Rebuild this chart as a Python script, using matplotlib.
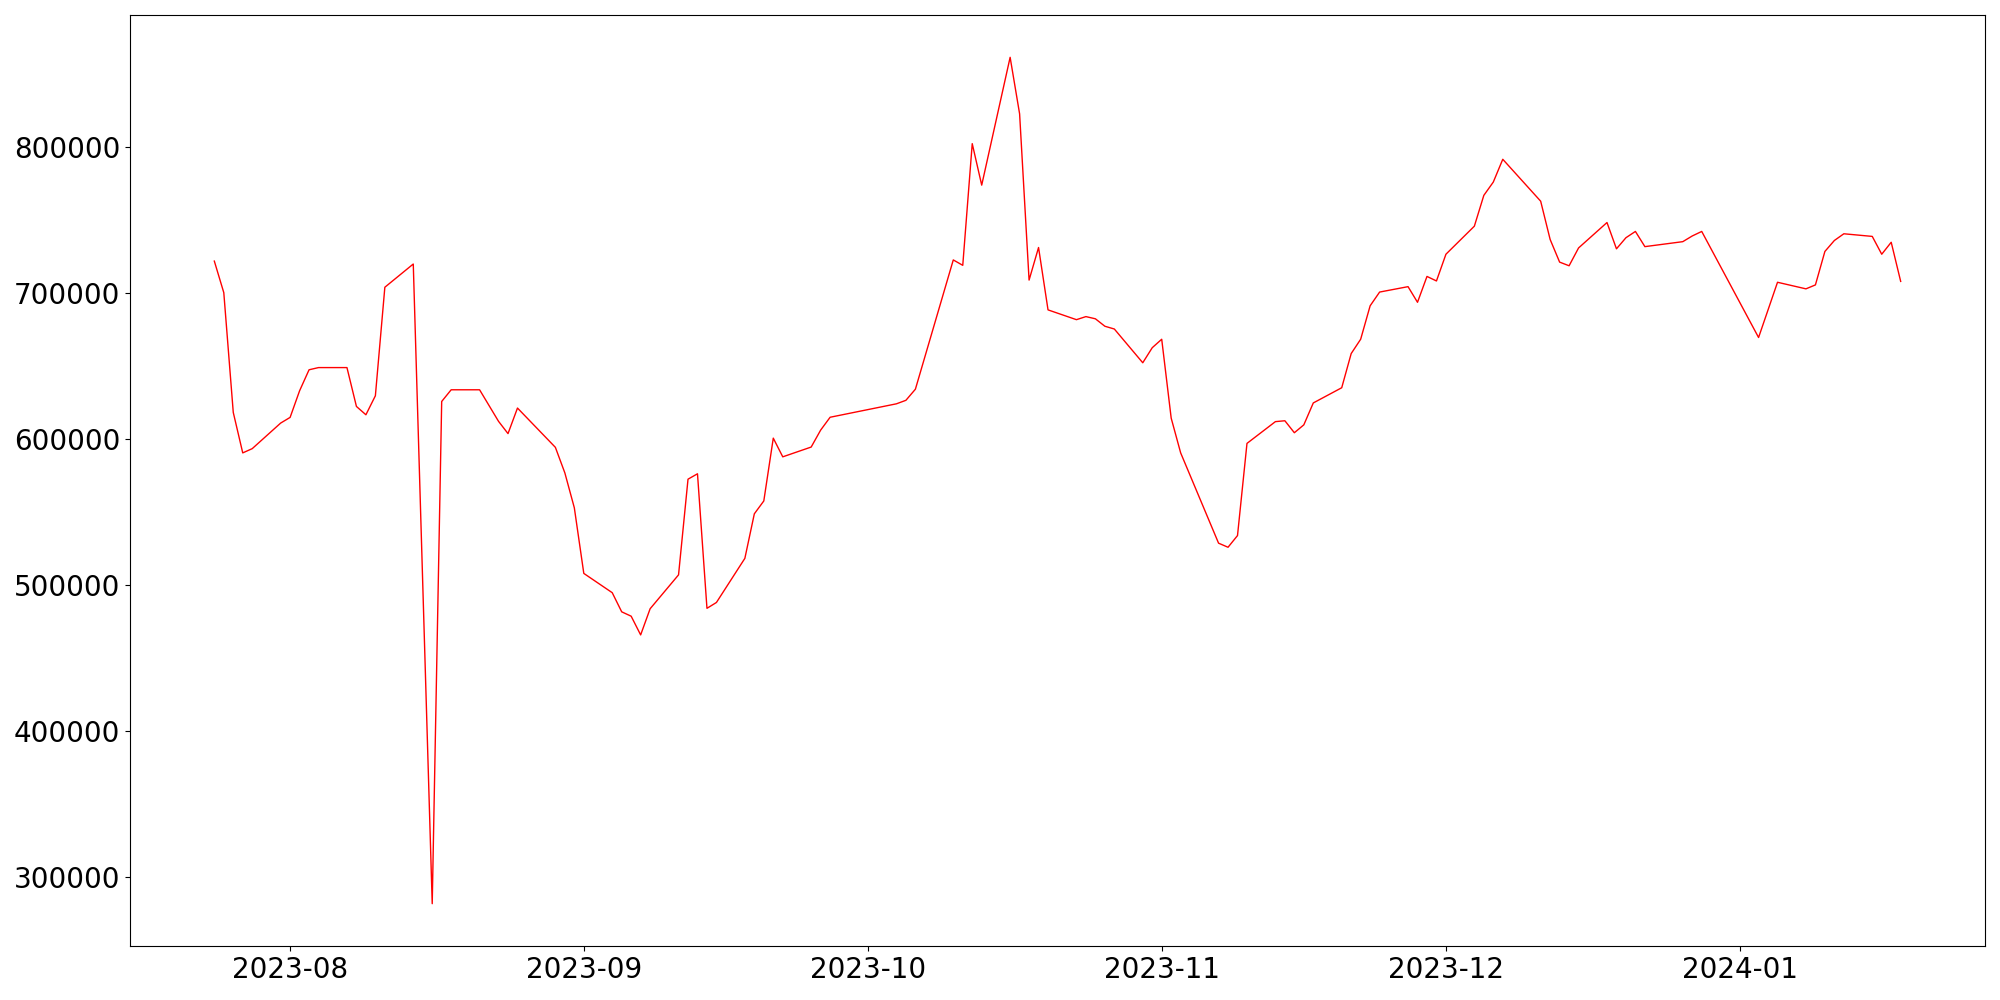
import pandas as pd
import matplotlib
matplotlib.use('Agg')
import matplotlib.pyplot as plt

# daily values (weekdays, a few gaps)
dates = [
    '2023-07-24', '2023-07-25', '2023-07-26', '2023-07-27', '2023-07-28',
    '2023-07-31', '2023-08-01', '2023-08-02', '2023-08-03', '2023-08-04',
    '2023-08-07', '2023-08-08', '2023-08-09', '2023-08-10', '2023-08-11',
    '2023-08-14', '2023-08-16', '2023-08-17', '2023-08-18',
    '2023-08-21', '2023-08-23', '2023-08-24', '2023-08-25',
    '2023-08-29', '2023-08-30', '2023-08-31', '2023-09-01',
    '2023-09-04', '2023-09-05', '2023-09-06', '2023-09-07', '2023-09-08',
    '2023-09-11', '2023-09-12', '2023-09-13', '2023-09-14', '2023-09-15',
    '2023-09-18', '2023-09-19', '2023-09-20', '2023-09-21', '2023-09-22',
    '2023-09-25', '2023-09-26', '2023-09-27',
    '2023-10-04', '2023-10-05', '2023-10-06',
    '2023-10-10', '2023-10-11', '2023-10-12', '2023-10-13',
    '2023-10-16', '2023-10-17', '2023-10-18', '2023-10-19', '2023-10-20',
    '2023-10-23', '2023-10-24', '2023-10-25', '2023-10-26', '2023-10-27',
    '2023-10-30', '2023-10-31', '2023-11-01', '2023-11-02', '2023-11-03',
    '2023-11-07', '2023-11-08', '2023-11-09', '2023-11-10',
    '2023-11-13', '2023-11-14', '2023-11-15', '2023-11-16', '2023-11-17',
    '2023-11-20', '2023-11-21', '2023-11-22', '2023-11-23', '2023-11-24',
    '2023-11-27', '2023-11-28', '2023-11-29', '2023-11-30', '2023-12-01',
    '2023-12-04', '2023-12-05', '2023-12-06', '2023-12-07',
    '2023-12-11', '2023-12-12', '2023-12-13', '2023-12-14', '2023-12-15',
    '2023-12-18', '2023-12-19', '2023-12-20', '2023-12-21', '2023-12-22',
    '2023-12-26', '2023-12-27', '2023-12-28',
    '2024-01-03', '2024-01-05',
    '2024-01-08', '2024-01-09', '2024-01-10', '2024-01-11', '2024-01-12',
    '2024-01-15', '2024-01-16', '2024-01-17', '2024-01-18',
]

values = [
    721900, 700300, 618300, 590600, 593500,
    611000, 614900, 633100, 647500, 649000,
    649000, 622400, 616700, 629700, 704000,
    719900, 282000, 625800, 633800,
    633800, 612200, 603800, 621300,
    594400, 576900, 553000, 508100,
    494900, 481800, 478800, 466000, 483900,
    507100, 572600, 576300, 484200, 488200,
    518400, 548900, 557700, 600700, 587900,
    594600, 606200, 615000,
    624200, 626600, 634200,
    722700, 719000, 802300, 773900,
    861400, 822700, 708900, 731200, 688500,
    681800, 683900, 682400, 677300, 675400,
    652300, 662600, 668400, 614400, 590600,
    528800, 526000, 534000, 597100,
    612000, 612600, 604400, 609800, 624800,
    635200, 658600, 668400, 691300, 700700,
    704400, 693700, 711400, 708300, 726600,
    745800, 766900, 776000, 791600,
    762900, 736700, 721200, 718700, 730900,
    748300, 730300, 737900, 742200, 731800,
    735200, 739100, 742200,
    669600, 707400,
    702900, 705600, 728500, 736000, 740600,
    738800, 726600, 734800, 708000,
]

df = pd.DataFrame({'date': pd.to_datetime(dates), 'value': values})

fig = plt.figure(figsize=(20, 10), dpi=100)
plt.plot(df['date'], df['value'], color='red', linewidth=1)
plt.xticks(fontsize=20)
plt.yticks(fontsize=20)
plt.subplots_adjust(left=0.065, right=0.9925, top=0.985, bottom=0.054)
plt.savefig('out.png')
